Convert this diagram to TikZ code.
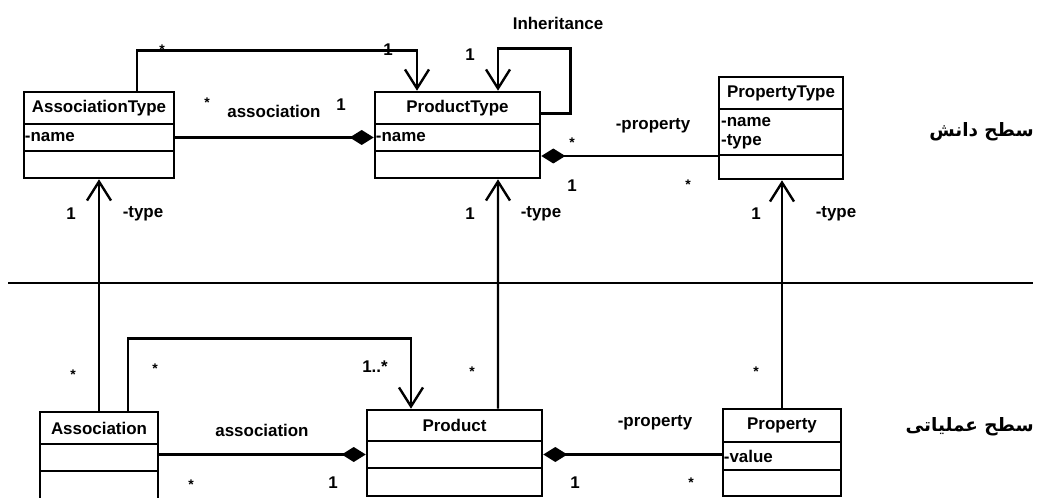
\documentclass[tikz,border=0pt]{standalone}
\usepackage{fontspec}
\setmainfont{Liberation Sans}
\newfontfamily\farsi[Script=Arabic]{DejaVu Sans}
\TeXXeTstate=1
\usetikzlibrary{arrows.meta}

% A UML class: three stacked compartments (header, attributes, operations)
% #1 name, #2 left, #3 right, #4 top, #5 first divider, #6 second divider, #7 bottom, #8 title
\newcommand\umlclass[8]{%
  \pgfmathsetmacro\uclw{#3-#2}%
  \pgfmathsetmacro\uclx{(#2+#3)/2}%
  \pgfmathsetmacro\uclha{#5-#4}\pgfmathsetmacro\uclya{(#4+#5)/2}%
  \pgfmathsetmacro\uclhb{#6-#5}\pgfmathsetmacro\uclyb{(#5+#6)/2}%
  \pgfmathsetmacro\uclhc{#7-#6}\pgfmathsetmacro\uclyc{(#6+#7)/2}%
  \node[compart, minimum width=\uclw bp, minimum height=\uclha bp] (#1-h) at (\uclx,\uclya) {#8};
  \node[compart, minimum width=\uclw bp, minimum height=\uclhb bp] (#1-a) at (\uclx,\uclyb) {};
  \node[compart, minimum width=\uclw bp, minimum height=\uclhc bp] (#1-o) at (\uclx,\uclyc) {};
}

\begin{document}
\begin{tikzpicture}[x=1bp, y=-1bp,
  txt/.style={font=\bfseries\fontsize{17}{20}\selectfont, inner sep=0pt},
  compart/.style={draw, line width=2.6bp, rectangle, inner sep=0pt, txt},
  lbl/.style={txt},
  mult/.style={font=\bfseries\fontsize{14}{17}\selectfont, inner sep=0pt, yshift=-3bp},
  attr/.style={txt, anchor=west},
  conn/.style={line width=2.4bp},
  navig/.style={conn, -{Straight Barb[length=19bp, width=24bp]}},
  compos/.style={conn, {Diamond[length=24bp, width=15bp]}-},
  sepline/.style={line width=2.6bp},
  level/.style={font=\farsi\bfseries\fontsize{18.5}{23}\selectfont, inner sep=0pt, anchor=east}]
\useasboundingbox (0,0) rectangle (1039,498);

% ---- knowledge level ----
\umlclass{at}{24}{174}{92}{124}{151}{178}{AssociationType}
\umlclass{pt}{375}{540}{92}{124}{151}{178}{ProductType}
\umlclass{ptt}{719}{843}{77}{109}{155}{179}{PropertyType}
\node[attr] (at-name) at ([xshift=2bp]at-a.west) {-name};
\node[attr] (pt-name) at ([xshift=2bp]pt-a.west) {-name};
\node[attr] (ptt-name) at (721,122) {-name};
\node[attr] (ptt-type) at (721,142) {-type};

% ---- operational level ----
\umlclass{a}{40}{158}{412}{444}{471}{501}{Association}
\umlclass{p}{367}{542}{410}{441}{468}{496}{Product}
\umlclass{prop}{723}{841}{409}{442}{470}{496}{Property}
\node[attr] (prop-value) at ([xshift=2bp]prop-a.west) {-value};

% separator between the two levels
\coordinate (sepL) at (8,283);
\coordinate (sepR) at (1033,283);
\draw[sepline] (sepL) -- (sepR);

% ---- connectors, knowledge level ----
\draw[navig] ([xshift=38bp]at-h.north) -- ++(0,-40) -| ([xshift=-40.5bp]pt-h.north);
\draw[compos] (pt-a.west) -- (pt-a.west -| at-a.east);
\draw[navig] ([yshift=-5.5bp]pt-h.east) -- ++(29,0) -- ++(0,-65) -| ([xshift=40.5bp]pt-h.north);
\coordinate (ppstart) at ([yshift=8.5bp]pt-o.east);
\draw[compos] (ppstart) -- (ppstart -| ptt-o.west);

% ---- connectors, operational level ----
\draw[navig] ([xshift=29bp]a-h.north) -- ++(0,-72) -| ([xshift=-43.5bp]p-h.north);
\draw[compos] (p-a.west) -- (p-a.west -| a-a.east);
\draw[compos] (p-a.east) -- (p-a.east -| prop-a.west);

% ---- type links across the levels ----
\draw[navig] (a-h.north) -- (at-o.south);
\draw[navig] ([xshift=43.5bp]p-h.north) -- ([xshift=40.5bp]pt-o.south);
\draw[navig] (prop-h.north) -- (prop-h.north |- ptt-o.south);

% ---- labels, knowledge level ----
\node[mult] (m1) at (162,47) {*};
\node[lbl] (m2) at (388,50) {1};
\node[mult] (m3) at (207,100) {*};
\node[lbl] (l1) at (274,111) {association};
\node[lbl] (m4) at (341,105) {1};
\node[lbl] (l2) at (558,23) {Inheritance};
\node[lbl] (m5) at (470,55) {1};
\node[mult] (m6) at (572,140) {*};
\node[lbl] (l3) at (653,126) {-property};
\node[lbl] (m7) at (572,186) {1};
\node[mult] (m8) at (688,182) {*};

% ---- labels on the type links ----
\node[lbl] (m9) at (71,214) {1};
\node[lbl] (l4) at (143,214) {-type};
\node[lbl] (m10) at (470,214) {1};
\node[lbl] (l5) at (541,214) {-type};
\node[lbl] (m11) at (756,214) {1};
\node[lbl] (l6) at (836,214) {-type};

% ---- labels, operational level ----
\node[mult] (m12) at (73,372) {*};
\node[mult] (m13) at (155,366) {*};
\node[lbl] (m14) at (375,367) {1..*};
\node[mult] (m15) at (472,369) {*};
\node[mult] (m16) at (756,369) {*};
\node[lbl] (l7) at (262,430) {association};
\node[mult] (m17) at (191,482) {*};
\node[lbl] (m18) at (333,483) {1};
\node[lbl] (l8) at (655,423) {-property};
\node[lbl] (m19) at (575,483) {1};
\node[mult] (m20) at (691,480) {*};

% ---- level names ----
\node[level] (knowledge) at (1034,132) {\beginR سطح دانش\endR};
\node[level] (operational) at (1034,427) {\beginR سطح عملیاتی\endR};
\end{tikzpicture}
\end{document}
